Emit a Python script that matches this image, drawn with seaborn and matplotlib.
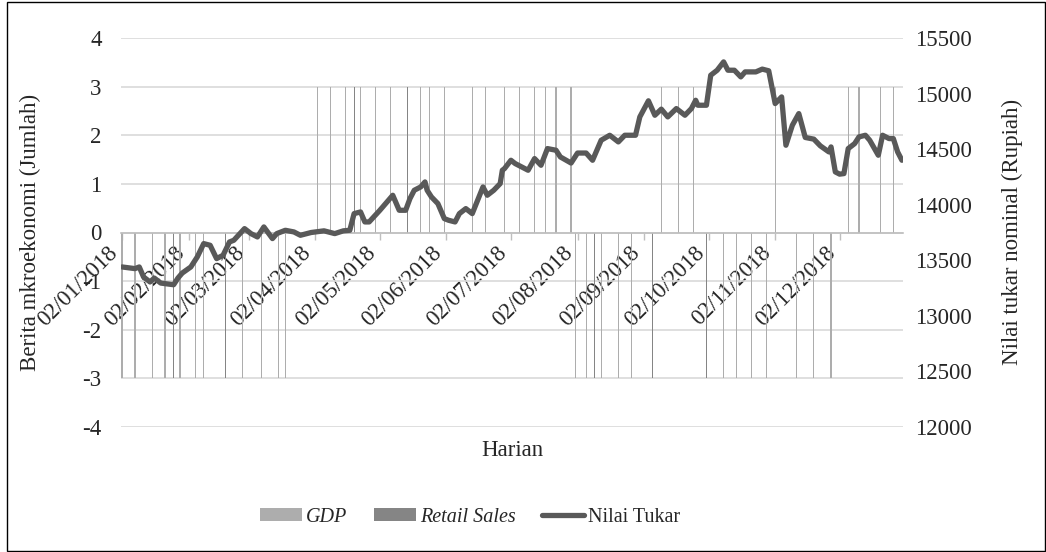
import matplotlib
matplotlib.use("Agg")
import matplotlib.pyplot as plt
import matplotlib.dates as mdates
from matplotlib.patches import Patch, Rectangle
from matplotlib.lines import Line2D
import seaborn as sns
import pandas as pd

# ========== Data ==========

# news days, bar up to +3
up_dates = ["2018-04-03", "2018-04-09", "2018-04-16", "2018-04-20", "2018-04-23",
            "2018-04-30", "2018-05-07", "2018-05-15", "2018-05-21", "2018-05-25",
            "2018-06-01", "2018-06-14", "2018-06-20", "2018-06-29", "2018-07-06",
            "2018-07-13", "2018-07-18", "2018-07-23", "2018-07-30", "2018-09-10",
            "2018-09-18", "2018-09-25", "2018-11-02", "2018-12-06", "2018-12-11",
            "2018-12-21", "2018-12-27"]
up_type = ["GDP", "GDP", "GDP", "Retail Sales", "GDP",
           "GDP", "GDP", "Retail Sales", "GDP", "GDP",
           "GDP", "GDP", "GDP", "GDP", "GDP",
           "GDP", "GDP", "GDP", "GDP", "GDP",
           "GDP", "GDP", "GDP", "GDP", "GDP",
           "GDP", "GDP"]

# news days, bar down to -3
down_dates = ["2018-01-02", "2018-01-08", "2018-01-16", "2018-01-22", "2018-01-26",
              "2018-01-29", "2018-02-05", "2018-02-09", "2018-02-19", "2018-02-27",
              "2018-03-08", "2018-03-16", "2018-03-19", "2018-08-01", "2018-08-06",
              "2018-08-10", "2018-08-13", "2018-08-21", "2018-08-27", "2018-09-06",
              "2018-10-01", "2018-10-09", "2018-10-15", "2018-10-22", "2018-10-29",
              "2018-11-12", "2018-11-20", "2018-11-28"]
down_type = ["GDP", "GDP", "GDP", "GDP", "Retail Sales",
             "GDP", "GDP", "GDP", "Retail Sales", "GDP",
             "GDP", "GDP", "GDP", "GDP", "GDP",
             "Retail Sales", "GDP", "GDP", "GDP", "Retail Sales",
             "Retail Sales", "GDP", "GDP", "GDP", "GDP",
             "GDP", "GDP", "GDP"]

# exchange rate (Rupiah)
rate_dates = [
    "2018-01-02", "2018-01-08", "2018-01-10", "2018-01-12", "2018-01-15", "2018-01-17",
    "2018-01-20", "2018-01-26", "2018-01-28", "2018-01-30",
    "2018-02-03", "2018-02-06", "2018-02-09", "2018-02-12", "2018-02-15", "2018-02-18",
    "2018-02-21", "2018-02-23", "2018-02-28",
    "2018-03-03", "2018-03-06", "2018-03-09", "2018-03-13", "2018-03-15", "2018-03-19",
    "2018-03-23", "2018-03-26", "2018-03-31",
    "2018-04-06", "2018-04-11", "2018-04-15", "2018-04-18", "2018-04-20", "2018-04-23",
    "2018-04-25", "2018-04-27",
    "2018-05-02", "2018-05-08", "2018-05-11", "2018-05-14", "2018-05-16", "2018-05-18",
    "2018-05-21", "2018-05-23", "2018-05-24", "2018-05-26", "2018-05-29",
    "2018-06-01", "2018-06-03", "2018-06-06", "2018-06-08", "2018-06-11", "2018-06-14",
    "2018-06-19", "2018-06-21", "2018-06-24", "2018-06-27", "2018-06-28", "2018-06-29",
    "2018-07-02", "2018-07-04", "2018-07-10", "2018-07-13", "2018-07-16", "2018-07-19",
    "2018-07-23", "2018-07-25", "2018-07-30",
    "2018-08-02", "2018-08-06", "2018-08-09", "2018-08-13", "2018-08-17", "2018-08-21",
    "2018-08-24", "2018-08-29", "2018-08-31",
    "2018-09-04", "2018-09-07", "2018-09-10", "2018-09-13", "2018-09-17", "2018-09-21",
    "2018-09-24", "2018-09-26", "2018-09-27",
    "2018-10-01", "2018-10-03", "2018-10-06", "2018-10-09", "2018-10-11", "2018-10-14",
    "2018-10-17", "2018-10-19", "2018-10-24", "2018-10-27", "2018-10-30",
    "2018-11-02", "2018-11-05", "2018-11-07", "2018-11-10", "2018-11-13", "2018-11-16",
    "2018-11-20", "2018-11-23", "2018-11-27", "2018-11-28", "2018-11-30",
    "2018-12-02", "2018-12-04", "2018-12-06", "2018-12-09", "2018-12-11", "2018-12-14",
    "2018-12-16", "2018-12-20", "2018-12-22", "2018-12-25", "2018-12-27", "2018-12-29",
    "2018-12-31"]
rate_values = [
    13440, 13425, 13440, 13350, 13305, 13340,
    13295, 13280, 13340, 13385,
    13440, 13530, 13650, 13635, 13515, 13545,
    13665, 13680, 13785,
    13740, 13710, 13800, 13695, 13740, 13770,
    13755, 13725, 13750,
    13765, 13740, 13765, 13770, 13920, 13935,
    13845, 13845,
    13950, 14085, 13950, 13950, 14055, 14130,
    14160, 14205, 14130, 14070, 14010,
    13875, 13860, 13845, 13920, 13965, 13920,
    14160, 14085, 14130, 14190, 14310, 14325,
    14400, 14370, 14310, 14415, 14355, 14505,
    14490, 14430, 14375,
    14465, 14465, 14400, 14580, 14625, 14565,
    14625, 14625, 14790,
    14935, 14805, 14860, 14790, 14865, 14805,
    14865, 14940, 14895,
    14895, 15165, 15210, 15285, 15210, 15210,
    15150, 15195, 15195, 15220, 15205,
    14910, 14970, 14535, 14715, 14820, 14605,
    14590, 14530, 14475, 14520, 14295,
    14275, 14280, 14505, 14550, 14610, 14625,
    14580, 14445, 14625, 14595, 14595, 14475,
    14400]

tick_dates = ["2018-%02d-02" % m for m in range(1, 13)]

# ========== Style ==========
sns.set_theme(style="white")
plt.rcParams['font.family'] = ['Liberation Serif', 'DejaVu Serif']
plt.rcParams['axes.unicode_minus'] = False
FS = 16.5      # tick labels / axis titles
LEG_FS = 14.5  # legend text

colors = {"GDP": "#adadad", "Retail Sales": "#858585"}
line_color = "#595959"
grid_color = "#d9d9d9"

fig = plt.figure(figsize=(10.46, 5.52), dpi=100)
ax = fig.add_axes([121 / 1046, 1 - 427 / 552, 782 / 1046, 389 / 552])
ax2 = ax.twinx()

# ========== Bars (news counts) ==========
up = pd.DataFrame({"date": pd.to_datetime(up_dates), "type": up_type, "val": 3})
down = pd.DataFrame({"date": pd.to_datetime(down_dates), "type": down_type, "val": -3})
news = pd.concat([up, down], ignore_index=True)

for kind, grp in news.groupby("type"):
    ax.bar(grp["date"], grp["val"], width=0.55, color=colors[kind],
           linewidth=0, zorder=2)

ax.set_ylim(-4, 4)
ax.set_yticks(range(-4, 5))
ax.yaxis.grid(True, color=grid_color, linewidth=1.2, zorder=0)
ax.set_axisbelow(True)

# x axis sits on zero
ax.spines['bottom'].set_position(('data', 0))
ax.spines['bottom'].set_color("#bfbfbf")
ax.spines['bottom'].set_linewidth(1.2)
for s in ['top', 'left', 'right']:
    ax.spines[s].set_visible(False)
for s in ['top', 'left', 'right', 'bottom']:
    ax2.spines[s].set_visible(False)

ax.set_xlim(pd.Timestamp("2018-01-01 12:00"), pd.Timestamp("2018-12-31 12:00"))
ax.set_xticks(pd.to_datetime(tick_dates))
ax.xaxis.set_major_formatter(mdates.DateFormatter("%d/%m/%Y"))
ax.tick_params(axis='x', direction='out', length=5, width=1, color="#bfbfbf",
               labelsize=FS, pad=2, bottom=True)
plt.setp(ax.get_xticklabels(), rotation=45, ha='right', rotation_mode='default')
ax.tick_params(axis='y', length=0, labelsize=FS, pad=14, left=True)

# ========== Exchange rate line ==========
rate = pd.DataFrame({"date": pd.to_datetime(rate_dates), "rate": rate_values})
sns.lineplot(data=rate, x="date", y="rate", ax=ax2, color=line_color,
             linewidth=3.8, legend=False, solid_joinstyle='round',
             solid_capstyle='round')
ax2.set_ylim(12000, 15500)
ax2.set_yticks(range(12000, 15501, 500))
ax2.tick_params(axis='y', length=0, labelsize=FS, pad=9, right=True)
ax2.set_ylabel("")
ax2.set_xlabel("")
ax.set_xlabel("")
ax.set_ylabel("")
ax2.grid(False)

# ========== Labels ==========
fig.text(30 / 1046, 1 - 232 / 552, "Berita mkroekonomi (Jumlah)", fontsize=FS,
         rotation=90, ha='center', va='center')
fig.text(1012 / 1046, 1 - 232 / 552, "Nilai tukar nominal (Rupiah)", fontsize=FS,
         rotation=90, ha='center', va='center')
fig.text(512 / 1046, 1 - 451 / 552, "Harian", fontsize=FS, ha='center', va='center')

# ========== Legend ==========
handles = [Patch(facecolor=colors["GDP"], edgecolor='none'),
           Patch(facecolor=colors["Retail Sales"], edgecolor='none'),
           Line2D([0], [0], color=line_color, linewidth=3.8)]
leg = fig.legend(handles, ["GDP", "Retail Sales", "Nilai Tukar"], loc='center',
                 bbox_to_anchor=(470 / 1046, 1 - 517 / 552), ncol=3, frameon=False,
                 fontsize=LEG_FS, handlelength=2.1, handleheight=0.6,
                 handletextpad=0.2, columnspacing=1.3)
for t in leg.get_texts()[:2]:
    t.set_style('italic')

# chart border
fig.patches.append(Rectangle((7 / 1046, 0.002), 1 - 8 / 1046, 0.995,
                             transform=fig.transFigure, fill=False,
                             edgecolor='black', linewidth=1))

fig.savefig("out.png", dpi=100)
